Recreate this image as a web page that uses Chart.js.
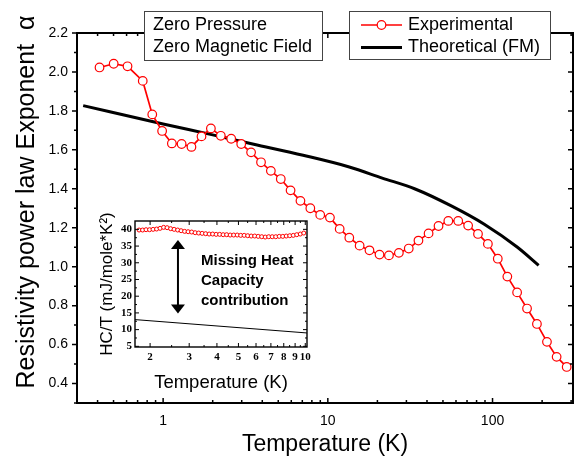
<!DOCTYPE html>
<html>
<head>
<meta charset="utf-8">
<script src="https://cdn.jsdelivr.net/npm/chart.js@4.4.1/dist/chart.umd.min.js"></script>
<style>
  html, body { margin: 0; padding: 0; background: #fff; }
  #wrap { position: relative; width: 584px; height: 456px; }
  #wrap canvas { position: absolute; left: 0; top: 0; }
</style>
</head>
<body>
<div id="wrap">
  <canvas id="main" width="584" height="456"></canvas>
  <canvas id="inset" width="584" height="456"></canvas>
</div>
<script>
// Main plot: resistivity exponent vs temperature
const expT = [0.411, 0.501, 0.608, 0.752, 0.859, 0.986, 1.13, 1.295, 1.486, 1.71, 1.95, 2.24, 2.59, 2.98, 3.42, 3.93, 4.51, 5.18, 5.94, 6.82, 7.83, 8.99, 10.3, 11.8, 13.5, 15.6, 17.9, 20.6, 23.5, 27.0, 31.0, 35.5, 40.9, 47.0, 53.9, 61.9, 71.1, 81.6, 93.7, 107.6, 123, 141, 162, 186, 214, 245, 282];
const expAlpha = [2.023, 2.042, 2.029, 1.954, 1.782, 1.697, 1.633, 1.630, 1.615, 1.669, 1.710, 1.672, 1.657, 1.630, 1.587, 1.536, 1.492, 1.450, 1.392, 1.338, 1.300, 1.266, 1.252, 1.194, 1.149, 1.108, 1.084, 1.062, 1.058, 1.071, 1.093, 1.134, 1.171, 1.209, 1.235, 1.235, 1.211, 1.168, 1.117, 1.041, 0.949, 0.868, 0.785, 0.706, 0.614, 0.537, 0.485];
const theoT = [0.327, 1, 2, 3.55, 7.08, 13.5, 21.4, 33.9, 56.2, 89.1, 141, 190.5];
const theoAlpha = [1.827, 1.733, 1.677, 1.629, 1.572, 1.512, 1.455, 1.399, 1.312, 1.218, 1.101, 1.007];

const xTicks = [1, 10, 100];
const xMinor = [0.4, 0.5, 0.6, 0.7, 0.8, 0.9, 2, 3, 4, 5, 6, 7, 8, 9, 20, 30, 40, 50, 60, 70, 80, 90, 200, 300];
const yTicks = [0.4, 0.6, 0.8, 1.0, 1.2, 1.4, 1.6, 1.8, 2.0, 2.2];
const yMinor = [0.3, 0.5, 0.7, 0.9, 1.1, 1.3, 1.5, 1.7, 1.9, 2.1];

// Inset: heat capacity
const hcT = [1.784, 1.850, 1.918, 1.989, 2.063, 2.139, 2.218, 2.300, 2.386, 2.474, 2.566, 2.661, 2.759, 2.861, 2.967, 3.077, 3.191, 3.309, 3.431, 3.558, 3.690, 3.826, 3.968, 4.115, 4.267, 4.425, 4.589, 4.759, 4.935, 5.118, 5.307, 5.504, 5.707, 5.919, 6.138, 6.365, 6.600, 6.845, 7.098, 7.362, 7.634, 7.917, 8.210, 8.514, 8.830, 9.156, 9.495, 9.847];
const hcVal = [39.8, 39.8, 39.9, 39.9, 40.0, 40.1, 40.3, 40.6, 40.5, 40.2, 40.0, 39.8, 39.6, 39.4, 39.3, 39.2, 39.0, 38.9, 38.8, 38.7, 38.6, 38.6, 38.5, 38.5, 38.4, 38.4, 38.3, 38.3, 38.3, 38.2, 38.2, 38.1, 38.0, 38.0, 37.9, 37.8, 37.7, 37.8, 37.8, 37.8, 37.9, 37.9, 38.0, 38.1, 38.2, 38.4, 38.6, 38.9];
const hcLineT = [1.71, 10.18];
const hcLineVal = [13.0, 9.0];
const arrowT = 2.67;
const arrowRange = [14.8, 36.8];

const insetXTicks = [2, 3, 4, 5, 6, 7, 8, 9, 10];
const insetXMinor = [2.5, 3.5, 4.5, 5.5, 6.5, 7.5, 8.5, 9.5];
const insetYTicks = [5, 10, 15, 20, 25, 30, 35, 40];
const insetYMinor = [7.5, 12.5, 17.5, 22.5, 27.5, 32.5, 37.5];

const SANS = "Arial, 'Liberation Sans', sans-serif";
const SERIF = "'Times New Roman', 'Liberation Serif', serif";
const RED = '#ff0000';

// draw tick marks on all four sides of a chart area
function drawTicks(ctx, a, xs, ys, major, minor, outsideLeft, lw) {
  ctx.lineWidth = lw;
  const put = (vals, len, scaleX, scaleY) => {
    vals.forEach(v => {
      if (scaleX) {
        const px = scaleX.getPixelForValue(v);
        ctx.beginPath();
        ctx.moveTo(px, a.bottom); ctx.lineTo(px, a.bottom - len);
        ctx.moveTo(px, a.top); ctx.lineTo(px, a.top + len);
        ctx.stroke();
      } else {
        const py = scaleY.getPixelForValue(v);
        ctx.beginPath();
        if (outsideLeft) { ctx.moveTo(a.left - len, py); ctx.lineTo(a.left, py); }
        else { ctx.moveTo(a.left, py); ctx.lineTo(a.left + len, py); }
        ctx.moveTo(a.right, py); ctx.lineTo(a.right - len, py);
        ctx.stroke();
      }
    });
  };
  put(xs.major, major, xs.scale, null);
  put(xs.minor, minor, xs.scale, null);
  put(ys.major, major, null, ys.scale);
  put(ys.minor, minor, null, ys.scale);
}

const mainDecor = {
  id: 'mainDecor',
  afterDraw(chart) {
    const { ctx, chartArea: a, scales: { x, y } } = chart;
    ctx.save();
    ctx.strokeStyle = '#000';
    ctx.lineWidth = 2;
    ctx.strokeRect(a.left, a.top, a.width, a.height);
    drawTicks(ctx, a, { scale: x, major: xTicks, minor: xMinor },
      { scale: y, major: yTicks, minor: yMinor }, 5, 3, true, 1.5);

    // y title
    ctx.save();
    ctx.translate(27.5, 202);
    ctx.rotate(-Math.PI / 2);
    ctx.fillStyle = '#000';
    ctx.font = '25px ' + SANS;
    ctx.textAlign = 'center';
    ctx.textBaseline = 'middle';
    ctx.fillText('Resistivity power law Exponent  \u03b1', 0, 0);
    ctx.restore();

    // condition box
    ctx.fillStyle = '#fff';
    ctx.strokeStyle = '#444';
    ctx.lineWidth = 1;
    ctx.fillRect(144, 11, 179, 50);
    ctx.strokeRect(144.5, 11.5, 178, 49);
    ctx.fillStyle = '#000';
    ctx.font = '18px ' + SANS;
    ctx.textAlign = 'left';
    ctx.textBaseline = 'middle';
    ctx.fillText('Zero Pressure', 153, 25.5);
    ctx.fillText('Zero Magnetic Field', 153, 47.5);

    // legend box
    ctx.fillStyle = '#fff';
    ctx.fillRect(349, 11, 202, 49);
    ctx.strokeRect(349.5, 11.5, 201, 48);
    ctx.strokeStyle = RED;
    ctx.lineWidth = 1.5;
    ctx.beginPath(); ctx.moveTo(361, 25); ctx.lineTo(402, 25); ctx.stroke();
    ctx.fillStyle = '#fff';
    ctx.lineWidth = 1.2;
    ctx.beginPath(); ctx.arc(381.5, 25, 4.3, 0, Math.PI * 2); ctx.fill(); ctx.stroke();
    ctx.strokeStyle = '#000';
    ctx.lineWidth = 3;
    ctx.beginPath(); ctx.moveTo(361, 47.5); ctx.lineTo(402, 47.5); ctx.stroke();
    ctx.fillStyle = '#000';
    ctx.fillText('Experimental', 408, 25.5);
    ctx.fillText('Theoretical (FM)', 408, 47.5);
    ctx.restore();
  }
};

new Chart(document.getElementById('main'), {
  type: 'line',
  data: {
    datasets: [
      {
        label: 'Experimental',
        data: expT.map((t, i) => ({ x: t, y: expAlpha[i] })),
        borderColor: RED,
        borderWidth: 1.7,
        pointRadius: 4.3,
        pointBorderWidth: 1.2,
        pointBorderColor: RED,
        pointBackgroundColor: '#fff',
        order: 0
      },
      {
        label: 'Theoretical (FM)',
        data: theoT.map((t, i) => ({ x: t, y: theoAlpha[i] })),
        borderColor: '#000',
        borderWidth: 3,
        pointRadius: 0,
        cubicInterpolationMode: 'monotone',
        order: 1
      }
    ]
  },
  options: {
    responsive: false,
    devicePixelRatio: 1,
    animation: false,
    layout: { padding: { left: 0, top: 33, right: 11, bottom: 0 } },
    plugins: { legend: { display: false }, tooltip: { enabled: false } },
    scales: {
      x: {
        type: 'logarithmic',
        min: 0.327,
        max: 308,
        afterBuildTicks: s => { s.ticks = xTicks.map(v => ({ value: v })); },
        afterFit: s => { s.height = 53; },
        grid: { display: false, drawTicks: false },
        border: { display: false },
        ticks: {
          color: '#000',
          font: { family: SANS, size: 14 },
          padding: 10,
          maxRotation: 0,
          autoSkip: false,
          callback: v => String(v)
        },
        title: {
          display: true,
          text: 'Temperature (K)',
          color: '#000',
          font: { family: SANS, size: 23, lineHeight: 1 },
          padding: { top: 0, bottom: 0 }
        }
      },
      y: {
        type: 'linear',
        min: 0.3,
        max: 2.2,
        afterBuildTicks: s => { s.ticks = yTicks.map(v => ({ value: v })); },
        afterFit: s => { s.width = 77; },
        grid: { display: false, drawTicks: false },
        border: { display: false },
        ticks: {
          color: '#000',
          font: { family: SANS, size: 14 },
          padding: 9,
          callback: v => v.toFixed(1)
        }
      }
    }
  },
  plugins: [mainDecor]
});

const insetDecor = {
  id: 'insetDecor',
  beforeDraw(chart) {
    const { ctx, chartArea: a } = chart;
    ctx.save();
    ctx.fillStyle = '#fff';
    ctx.fillRect(a.left, a.top, a.width, a.height);
    ctx.restore();
  },
  afterDraw(chart) {
    const { ctx, chartArea: a, scales: { x, y } } = chart;
    ctx.save();
    ctx.strokeStyle = '#000';
    ctx.lineWidth = 1.4;
    ctx.strokeRect(a.left, a.top, a.width, a.height);
    drawTicks(ctx, a, { scale: x, major: insetXTicks, minor: insetXMinor },
      { scale: y, major: insetYTicks, minor: insetYMinor }, 4, 2, false, 1);

    // double arrow
    const ax = x.getPixelForValue(arrowT);
    const y1 = y.getPixelForValue(arrowRange[1]);
    const y0 = y.getPixelForValue(arrowRange[0]);
    ctx.fillStyle = '#000';
    ctx.lineWidth = 2;
    ctx.beginPath(); ctx.moveTo(ax, y1 + 6); ctx.lineTo(ax, y0 - 6); ctx.stroke();
    ctx.beginPath();
    ctx.moveTo(ax, y1); ctx.lineTo(ax - 7, y1 + 9); ctx.lineTo(ax + 7, y1 + 9); ctx.closePath(); ctx.fill();
    ctx.beginPath();
    ctx.moveTo(ax, y0); ctx.lineTo(ax - 7, y0 - 9); ctx.lineTo(ax + 7, y0 - 9); ctx.closePath(); ctx.fill();

    ctx.font = 'bold 15px ' + SANS;
    ctx.textAlign = 'left';
    ctx.textBaseline = 'middle';
    ctx.fillText('Missing Heat', 201, 261);
    ctx.fillText('Capacity', 201, 281);
    ctx.fillText('contribution', 201, 300.5);
    ctx.restore();
  }
};

new Chart(document.getElementById('inset'), {
  type: 'line',
  data: {
    datasets: [
      {
        label: 'HC/T',
        data: hcT.map((t, i) => ({ x: t, y: hcVal[i] })),
        showLine: false,
        pointRadius: 2,
        pointBorderWidth: 1,
        pointBorderColor: RED,
        pointBackgroundColor: '#fff'
      },
      {
        label: 'phonon',
        data: hcLineT.map((t, i) => ({ x: t, y: hcLineVal[i] })),
        borderColor: '#000',
        borderWidth: 1,
        pointRadius: 0
      }
    ]
  },
  options: {
    responsive: false,
    devicePixelRatio: 1,
    animation: false,
    layout: { padding: { left: 90, top: 221, right: 277, bottom: 59 } },
    plugins: { legend: { display: false }, tooltip: { enabled: false } },
    scales: {
      x: {
        type: 'logarithmic',
        min: 1.71,
        max: 10.18,
        afterBuildTicks: s => { s.ticks = insetXTicks.map(v => ({ value: v })); },
        afterFit: s => { s.height = 50; },
        grid: { display: false, drawTicks: false },
        border: { display: false },
        ticks: {
          color: '#000',
          font: { family: SERIF, size: 11, weight: 'bold' },
          padding: 4,
          maxRotation: 0,
          autoSkip: false,
          callback: v => String(v)
        },
        title: {
          display: true,
          text: 'Temperature (K)',
          color: '#000',
          font: { family: SANS, size: 18.5, lineHeight: 1 },
          padding: { top: 0, bottom: 5 }
        }
      },
      y: {
        type: 'linear',
        min: 4.8,
        max: 42.5,
        afterBuildTicks: s => { s.ticks = insetYTicks.map(v => ({ value: v })); },
        afterFit: s => { s.width = 45; },
        grid: { display: false, drawTicks: false },
        border: { display: false },
        ticks: {
          color: '#000',
          font: { family: SERIF, size: 11, weight: 'bold' },
          padding: 3,
          callback: v => String(v)
        },
        title: {
          display: true,
          text: 'HC/T (mJ/mole*K\u00b2)',
          color: '#000',
          font: { family: SANS, size: 17, lineHeight: 1 },
          padding: { top: 9, bottom: 0 }
        }
      }
    }
  },
  plugins: [insetDecor]
});
</script>
</body>
</html>
